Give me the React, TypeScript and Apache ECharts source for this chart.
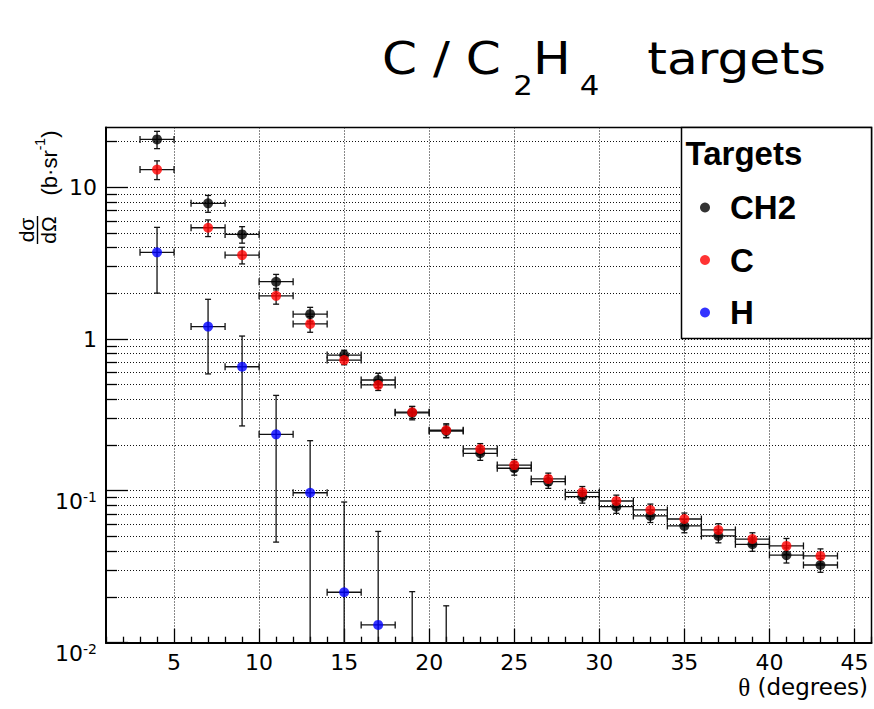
import React, { useEffect, useRef } from "react";
import * as echarts from "echarts";

// ---- data ----
const THETA = [4, 7, 9, 11, 13, 15, 17, 19, 21, 23, 25, 27, 29, 31, 33, 35, 37, 39, 41, 43];
const THETA_ERR = [1, 1, 1, 1, 1, 1, 1, 1, 1, 1, 1, 1, 1, 1, 1, 1, 1, 1, 1, 1];

const CH2 = [20.7, 7.85, 4.9, 2.39, 1.46, 0.785, 0.538, 0.327, 0.248, 0.177, 0.141, 0.115, 0.0916, 0.0787, 0.0684, 0.0588, 0.0505, 0.0445, 0.0378, 0.0325];
const CH2_ERR = [2.7, 1.0, 0.61, 0.28, 0.16, 0.06, 0.058, 0.033, 0.024, 0.018, 0.014, 0.011, 0.0085, 0.0075, 0.0065, 0.0058, 0.005, 0.0045, 0.0043, 0.0034];

const C = [13.1, 5.42, 3.58, 1.93, 1.26, 0.728, 0.499, 0.33, 0.251, 0.189, 0.148, 0.12, 0.0979, 0.0858, 0.0749, 0.0653, 0.0553, 0.0482, 0.0434, 0.0373];
const C_ERR = [1.85, 0.68, 0.45, 0.23, 0.15, 0.05, 0.04, 0.03, 0.026, 0.016, 0.013, 0.011, 0.009, 0.008, 0.007, 0.0062, 0.0055, 0.0048, 0.0052, 0.0042];

const H = [3.73, 1.21, 0.658, 0.236, 0.0973, 0.0215, 0.0131, 0.001, 0.0005];
const H_ERR = [1.72, 0.62, 0.39, 0.19, 0.117, 0.063, 0.041, 0.0207, 0.017];

const X_MIN = 1;
const X_MAX = 46;
const Y_MIN = 0.01;
const Y_MAX = 24.8;
const X_LABELS = [5, 10, 15, 20, 25, 30, 35, 40, 45];
const Y_DECADES = [0.01, 0.1, 1, 10];
const Y_MINOR_STEPS = [2, 3, 4, 5, 6, 7, 8, 9];

const LY_MIN = Math.log10(Y_MIN);
const LY_MAX = Math.log10(Y_MAX);

function errData(vals: number[], errs: number[]) {
  return vals.map((v, i) => {
    const lo = v - errs[i];
    return [
      THETA[i],
      Math.log10(v),
      lo > 0 ? Math.log10(lo) : LY_MIN - 2,
      Math.log10(v + errs[i]),
      THETA_ERR[i],
    ];
  });
}

function pts(vals: number[]) {
  return vals.map((v, i) => [THETA[i], Math.log10(v)]);
}

const crisp = (p: number) => Math.round(p - 0.5) + 0.5;

const errRender = (params: any, api: any) => {
  const cs = params.coordSys;
  const top = cs.y;
  const bottom = cs.y + cs.height;
  const x = api.value(0);
  const y = api.value(1);
  const lo = api.value(2);
  const hi = api.value(3);
  const dx = api.value(4);
  const c = api.coord([x, y]);
  const xl = api.coord([x - dx, y])[0];
  const xr = api.coord([x + dx, y])[0];
  const yh = api.coord([x, hi])[1];
  const yl = api.coord([x, lo])[1];
  const st = { stroke: "#111", lineWidth: 1.3 };
  const ch: any[] = [];
  if (c[1] <= bottom + 0.5 && c[1] >= top - 0.5) {
    ch.push({ type: "line", shape: { x1: xl, y1: c[1], x2: xr, y2: c[1] }, style: st });
    ch.push({ type: "line", shape: { x1: xl, y1: c[1] - 3.5, x2: xl, y2: c[1] + 3.5 }, style: st });
    ch.push({ type: "line", shape: { x1: xr, y1: c[1] - 3.5, x2: xr, y2: c[1] + 3.5 }, style: st });
  }
  const y1 = Math.max(yh, top);
  const y2 = Math.min(yl, bottom);
  if (y1 < y2) {
    ch.push({ type: "line", shape: { x1: c[0], y1, x2: c[0], y2 }, style: st });
    if (yh >= top) ch.push({ type: "line", shape: { x1: c[0] - 3, y1: yh, x2: c[0] + 3, y2: yh }, style: st });
    if (yl <= bottom) ch.push({ type: "line", shape: { x1: c[0] - 3, y1: yl, x2: c[0] + 3, y2: yl }, style: st });
  }
  return { type: "group", children: ch };
};

const decorRender = (params: any, api: any) => {
  const cs = params.coordSys;
  const left = cs.x;
  const top = cs.y;
  const right = cs.x + cs.width;
  const bottom = cs.y + cs.height;
  const dot = { stroke: "#111", lineWidth: 1, lineDash: [1, 2] };
  const tk = { stroke: "#000", lineWidth: 1.3 };
  const ch: any[] = [];
  // vertical grid + major x ticks
  X_LABELS.forEach((v) => {
    const px = crisp(api.coord([v, LY_MIN])[0]);
    ch.push({ type: "line", shape: { x1: px, y1: top, x2: px, y2: bottom }, style: dot });
    ch.push({ type: "line", shape: { x1: px, y1: bottom, x2: px, y2: bottom - 14 }, style: tk });
  });
  // minor x ticks
  for (let v = Math.ceil(X_MIN); v <= X_MAX; v++) {
    if (v % 5 === 0) continue;
    const px = crisp(api.coord([v, LY_MIN])[0]);
    ch.push({ type: "line", shape: { x1: px, y1: bottom, x2: px, y2: bottom - 6 }, style: tk });
  }
  // horizontal grid + y ticks
  Y_DECADES.forEach((d) => {
    const py = crisp(api.coord([X_MIN, Math.log10(d)])[1]);
    if (py >= top && py <= bottom + 1) {
      if (py < bottom - 1) ch.push({ type: "line", shape: { x1: left, y1: py, x2: right, y2: py }, style: dot });
      ch.push({ type: "line", shape: { x1: left, y1: py, x2: left + 22, y2: py }, style: tk });
    }
    Y_MINOR_STEPS.forEach((k) => {
      const lv = Math.log10(k * d);
      if (lv > LY_MAX || lv < LY_MIN) return;
      const p = crisp(api.coord([X_MIN, lv])[1]);
      ch.push({ type: "line", shape: { x1: left, y1: p, x2: right, y2: p }, style: dot });
      ch.push({ type: "line", shape: { x1: left, y1: p, x2: left + 11, y2: p }, style: tk });
    });
  });
  return { type: "group", children: ch };
};

const TICK_FONT = "DejaVu Sans";

const option: any = {
  animation: false,
  backgroundColor: "#fff",
  grid: {
    left: 106,
    right: 2.5,
    top: 127.5,
    bottom: 66.3,
    show: true,
    borderColor: "#000",
    borderWidth: 1.5,
    backgroundColor: "#fff",
    outerBoundsMode: "none",
  },
  xAxis: {
    type: "value",
    min: X_MIN,
    max: X_MAX,
    interval: 1,
    axisLine: { show: true, onZero: false, lineStyle: { color: "#000", width: 2 } },
    axisTick: { show: false },
    splitLine: { show: false },
    axisLabel: {
      formatter: (v: number) => (Math.abs(v - Math.round(v)) < 1e-6 && Math.round(v) % 5 === 0 ? String(Math.round(v)) : ""),
      color: "#000",
      fontFamily: TICK_FONT,
      fontSize: 22,
      margin: 9,
    },
  },
  yAxis: {
    type: "value",
    min: LY_MIN,
    max: LY_MAX,
    interval: 1,
    axisLine: { show: true, onZero: false, lineStyle: { color: "#000", width: 2 } },
    axisTick: { show: false },
    splitLine: { show: false },
    axisLabel: {
      formatter: (v: number) => {
        if (Math.abs(v - Math.round(v)) > 1e-6) return "";
        const e = Math.round(v);
        if (e === 0) return "1";
        if (e === 1) return "10";
        return "{b|10}{s|" + e + "}";
      },
      color: "#000",
      fontFamily: TICK_FONT,
      fontSize: 22,
      margin: 9,
      rich: {
        b: { fontFamily: TICK_FONT, fontSize: 22, lineHeight: 22, padding: [11, 0, 0, 0], verticalAlign: "top", color: "#000" },
        s: { fontFamily: TICK_FONT, fontSize: 14, lineHeight: 14, padding: [10, 0, 0, 0], verticalAlign: "top", color: "#000" },
      },
    },
  },
  legend: {
    data: ["CH2", "C", "H"],
    orient: "vertical",
    left: 700,
    top: 191,
    padding: 0,
    itemGap: 19.5,
    itemWidth: 10,
    itemHeight: 10,
    icon: "circle",
    selectedMode: false,
    z: 6,
    textStyle: {
      fontFamily: "Liberation Sans",
      fontSize: 33,
      fontWeight: "bold",
      color: "#000",
      lineHeight: 33,
      padding: [0, 0, 0, 15],
    },
  },
  graphic: {
    elements: [
      {
        type: "rect",
        z: 4,
        shape: { x: 681.5, y: 127.5, width: 190, height: 211 },
        style: { fill: "#fff", stroke: "#000", lineWidth: 1.5 },
      },
      {
        type: "text",
        z: 7,
        x: 685.5,
        y: 153,
        style: {
          text: "Targets",
          fontFamily: "Liberation Sans",
          fontWeight: "bold",
          fontSize: 33,
          fill: "#000",
          align: "left",
          verticalAlign: "middle",
        },
      },
      {
        type: "text",
        z: 7,
        x: 382,
        y: 37,
        scaleX: 1.14,
        style: {
          text: "{m|C / C}{s1|2}{m|H}{s2|4}{t|targets}",
          align: "left",
          verticalAlign: "top",
          fill: "#000",
          rich: {
            m: { fontFamily: "DejaVu Sans", fontSize: 44, lineHeight: 44, verticalAlign: "top", fill: "#000" },
            s1: { fontFamily: "DejaVu Sans", fontSize: 27, lineHeight: 27, padding: [35, 0, 0, 11], verticalAlign: "top", fill: "#000" },
            s2: { fontFamily: "DejaVu Sans", fontSize: 27, lineHeight: 27, padding: [35, 0, 0, 8], verticalAlign: "top", fill: "#000" },
            t: { fontFamily: "DejaVu Sans", fontSize: 44, lineHeight: 44, padding: [0, 0, 0, 42], verticalAlign: "top", fill: "#000" },
          },
        },
      },
      {
        type: "text",
        z: 7,
        x: 868,
        y: 687,
        style: {
          text: "{t|θ} (degrees)",
          fontFamily: "DejaVu Sans",
          fontSize: 23,
          fill: "#000",
          align: "right",
          verticalAlign: "middle",
          rich: {
            t: { fontFamily: "Liberation Serif", fontSize: 25, fill: "#000" },
          },
        },
      },
      {
        type: "text",
        z: 7,
        x: 44,
        y: 163,
        rotation: Math.PI / 2,
        style: {
          text: "{a|(b·sr}{s|-1}{a|)}",
          align: "center",
          verticalAlign: "middle",
          fill: "#000",
          rich: {
            a: { fontFamily: "Liberation Sans", fontSize: 22, lineHeight: 22, padding: [5, 0, 0, 0], verticalAlign: "top", fill: "#000" },
            s: { fontFamily: "Liberation Sans", fontSize: 14, lineHeight: 14, verticalAlign: "top", fill: "#000" },
          },
        },
      },
      {
        type: "text",
        z: 7,
        x: 37,
        y: 230,
        rotation: Math.PI / 2,
        style: { text: "dσ", fontFamily: "Liberation Sans", fontSize: 21, fill: "#000", align: "center", verticalAlign: "bottom" },
      },
      {
        type: "line",
        z: 7,
        shape: { x1: 37.5, y1: 216, x2: 37.5, y2: 244 },
        style: { stroke: "#000", lineWidth: 1.4 },
      },
      {
        type: "text",
        z: 7,
        x: 38,
        y: 230,
        rotation: Math.PI / 2,
        style: { text: "dΩ", fontFamily: "Liberation Sans", fontSize: 21, fill: "#000", align: "center", verticalAlign: "top" },
      },
    ],
  },
  series: [
    {
      type: "custom",
      name: "frame",
      silent: true,
      z: 1,
      clip: false,
      data: [[X_MIN, LY_MIN]],
      renderItem: decorRender,
    },
    { type: "custom", name: "CH2 err", silent: true, z: 2, data: errData(CH2, CH2_ERR), renderItem: errRender },
    { type: "custom", name: "C err", silent: true, z: 2, data: errData(C, C_ERR), renderItem: errRender },
    { type: "custom", name: "H err", silent: true, z: 2, data: errData(H, H_ERR), renderItem: errRender },
    { type: "scatter", name: "CH2", z: 3, silent: true, symbol: "circle", symbolSize: 10, clip: true, itemStyle: { color: "#000" }, data: pts(CH2) },
    { type: "scatter", name: "C", z: 3, silent: true, symbol: "circle", symbolSize: 10, clip: true, itemStyle: { color: "#ff0000" }, data: pts(C) },
    { type: "scatter", name: "H", z: 3, silent: true, symbol: "circle", symbolSize: 10, clip: true, itemStyle: { color: "#0000ff" }, data: pts(H) },
  ],
};

export default function App() {
  const ref = useRef<HTMLDivElement>(null);
  useEffect(() => {
    if (!ref.current) return;
    const chart = echarts.init(ref.current, null, { renderer: "svg" });
    chart.setOption(option);
    return () => chart.dispose();
  }, []);
  return (
    <div
      ref={ref}
      style={{ position: "fixed", left: 0, top: 0, width: 874, height: 709, background: "#fff" }}
    />
  );
}
